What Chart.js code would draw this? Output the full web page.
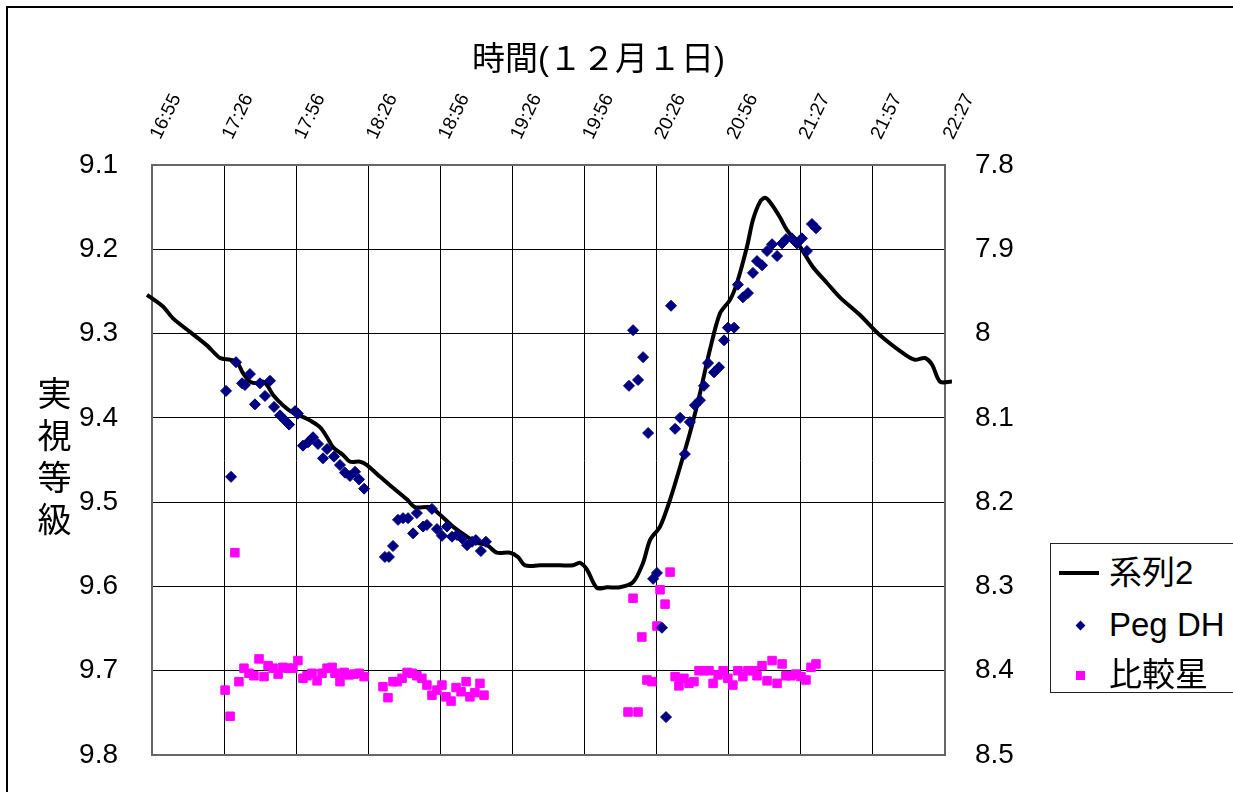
<!DOCTYPE html>
<html lang="ja">
<head>
<meta charset="UTF-8">
<title>Peg DH 光度曲線 (12月1日)</title>
<script src="https://cdn.jsdelivr.net/npm/chart.js"></script>
<style>
  body { margin: 0; background: #fff; font-family: 'Liberation Sans', 'Noto Sans CJK JP', sans-serif; }
  #wrap { position: relative; width: 1233px; height: 792px; overflow: hidden; }
  #frame { position: absolute; left: 6px; top: 6px; width: 1400px; height: 1000px;
           border-top: 2px solid #000; border-left: 2px solid #000; }
  #chart { position: absolute; left: 0; top: 0; }
  #xtitle { position: absolute; left: 472px; top: 32px; font-size: 33px; white-space: nowrap; }
  #ytitle { position: absolute; left: 32px; top: 376px; font-size: 34px; line-height: 40px;
            letter-spacing: 8px; writing-mode: vertical-rl; }
  #legend { position: absolute; left: 1050px; top: 543px; width: 220px; height: 148px;
            border: 1.5px solid #222; background: #fff; }
  .item { position: absolute; left: 58px; font-size: 33px; line-height: 40px; white-space: nowrap; }
  .mark { position: absolute; }
</style>
</head>
<body>
<div id="wrap">
  <div id="frame"></div>
  <canvas id="chart" width="1233" height="792"></canvas>
  <div id="xtitle">時間(１２月１日)</div>
  <div id="ytitle">実視等級</div>
  <div id="legend">
    <div class="mark" style="left:8px; top:27px; width:40px; height:4px; background:#000;"></div>
    <div class="item" style="top:9px;">系列2</div>
    <div class="mark" style="left:26px; top:78px; width:7px; height:7px; background:#000080; transform:rotate(45deg);"></div>
    <div class="item" style="top:61px;">Peg DH</div>
    <div class="mark" style="left:25px; top:127px; width:9px; height:9px; background:#ff00ff;"></div>
    <div class="item" style="top:111px;">比較星</div>
  </div>
</div>

<script>
// time axis: minutes after 16:55
const tickLabels = ['16:55', '17:26', '17:56', '18:26', '18:56', '19:26',
                    '19:56', '20:26', '20:56', '21:27', '21:57', '22:27'];
const xMax = 332;

// 系列2 (line)
const lineTimes = [-2.1, 4.6, 8.8, 15.9, 23.0, 28.5, 32.7, 35.6, 38.1, 41.0, 44.0, 46.5, 48.6, 50.7,
  54.8, 59.0, 63.2, 66.1, 70.3, 73.3, 75.8, 80.0, 82.9, 87.1, 90.0, 95.5, 100.9, 106.8, 110.1,
  116.4, 120.6, 126.0, 131.9, 136.1, 140.3, 144.4, 149.9, 153.2, 156.2, 162.4, 170.8, 176.3,
  179.2, 182.1, 186.3, 190.5, 195.9, 201.4, 205.6, 208.5, 212.7, 216.9, 221.1, 225.2, 229.4,
  233.6, 237.8, 242.0, 244.9, 249.1, 251.6, 254.5, 256.6, 258.7, 262.9, 265.8, 271.3, 276.7,
  282.6, 288.0, 296.4, 304.8, 315.3, 319.4, 323.6, 326.6, 329.9, 334.9];
const lineMags = [9.254, 9.268, 9.282, 9.298, 9.314, 9.329, 9.331, 9.334, 9.347, 9.357, 9.359, 9.357,
  9.363, 9.373, 9.385, 9.394, 9.399, 9.403, 9.411, 9.423, 9.435, 9.444, 9.452, 9.452, 9.456,
  9.470, 9.483, 9.497, 9.506, 9.506, 9.515, 9.529, 9.541, 9.548, 9.551, 9.560, 9.560, 9.565,
  9.575, 9.575, 9.575, 9.575, 9.572, 9.580, 9.602, 9.601, 9.601, 9.595, 9.572, 9.545, 9.529,
  9.497, 9.458, 9.418, 9.371, 9.319, 9.276, 9.260, 9.240, 9.197, 9.165, 9.144, 9.139, 9.144,
  9.162, 9.177, 9.197, 9.221, 9.240, 9.257, 9.278, 9.302, 9.325, 9.331, 9.329, 9.337, 9.357,
  9.357];

// Peg DH
const pegTimes = [31.0, 33.1, 35.2, 37.7, 38.9, 41.0, 43.1, 45.2, 47.3, 49.4, 51.1, 53.6, 55.7, 57.4,
  59.9, 61.1, 63.2, 65.3, 67.4, 69.5, 71.6, 73.3, 76.2, 78.7, 80.8, 82.9, 85.0, 86.7, 88.8,
  97.5, 99.2, 100.9, 103.0, 105.1, 107.2, 109.3, 110.9, 113.5, 115.1, 117.2, 119.3, 121.4,
  123.5, 125.6, 127.7, 129.8, 131.9, 134.0, 135.6, 137.7, 139.8,
  199.7, 201.4, 203.5, 205.6, 207.7, 209.8, 211.4, 213.5, 215.2, 217.3, 219.0, 221.1, 223.1,
  225.2, 227.3, 229.4, 231.1, 232.8, 235.3, 237.4, 239.5, 241.1, 243.7, 245.3, 247.4, 249.5,
  251.6, 253.3, 255.4, 257.5, 259.6, 261.7, 263.8, 265.4, 267.9, 270.0, 272.1, 274.2, 276.3,
  278.0];
const pegMags = [9.368, 9.470, 9.334, 9.359, 9.361, 9.348, 9.384, 9.359, 9.374, 9.356, 9.387, 9.397,
  9.403, 9.408, 9.392, 9.395, 9.433, 9.429, 9.423, 9.431, 9.448, 9.437, 9.446, 9.456, 9.465,
  9.469, 9.464, 9.473, 9.484,
  9.565, 9.565, 9.552, 9.521, 9.519, 9.519, 9.537, 9.513, 9.529, 9.527, 9.508, 9.532, 9.540,
  9.529, 9.541, 9.539, 9.543, 9.551, 9.547, 9.545, 9.558, 9.547,
  9.362, 9.296, 9.355, 9.328, 9.418, 9.591, 9.584, 9.649, 9.755, 9.267, 9.413, 9.400, 9.443,
  9.405, 9.385, 9.379, 9.362, 9.335, 9.346, 9.340, 9.308, 9.293, 9.293, 9.242, 9.257, 9.252,
  9.228, 9.214, 9.219, 9.202, 9.194, 9.208, 9.193, 9.188, 9.187, 9.193, 9.187, 9.202, 9.170,
  9.175];

// 比較星
const compTimes = [34.7, 30.6, 32.7, 36.4, 38.5, 40.6, 42.7, 44.8, 46.9, 48.6, 50.7, 52.8, 54.8, 56.9,
  59.0, 61.1, 63.2, 64.9, 67.0, 69.1, 71.2, 73.3, 75.4, 76.6, 78.7, 80.4, 82.5, 84.6, 86.7,
  88.8, 96.7, 98.8, 100.9, 102.6, 104.7, 106.8, 108.9, 110.9, 113.0, 115.1, 117.2, 119.3,
  121.4, 123.1, 125.2, 127.3, 129.4, 131.5, 133.1, 135.2, 137.3, 139.0,
  199.3, 201.4, 203.5, 205.1, 207.2, 209.3, 211.4, 212.7, 214.8, 216.9, 219.0, 220.6, 222.7,
  224.8, 226.9, 229.0, 231.1, 233.2, 234.9, 237.0, 239.1, 241.1, 243.2, 245.3, 247.4, 249.5,
  251.6, 253.3, 255.4, 257.5, 259.6, 261.7, 263.8, 265.4, 267.5, 269.6, 271.7, 273.8, 275.9,
  278.0];
const compMags = [9.560, 9.723, 9.754, 9.713, 9.697, 9.703, 9.706, 9.686, 9.707, 9.694, 9.697, 9.704,
  9.696, 9.697, 9.697, 9.688, 9.709, 9.706, 9.703, 9.712, 9.703, 9.697, 9.696, 9.703, 9.713,
  9.702, 9.705, 9.704, 9.703, 9.707, 9.719, 9.732, 9.713, 9.713, 9.709, 9.702, 9.703, 9.706,
  9.709, 9.717, 9.729, 9.723, 9.717, 9.731, 9.736, 9.720, 9.725, 9.713, 9.731, 9.726, 9.715,
  9.729,
  9.749, 9.614, 9.749, 9.660, 9.711, 9.713, 9.647, 9.604, 9.621, 9.583, 9.707, 9.718, 9.709,
  9.715, 9.713, 9.700, 9.700, 9.700, 9.715, 9.705, 9.700, 9.709, 9.717, 9.700, 9.707, 9.700,
  9.700, 9.706, 9.694, 9.712, 9.688, 9.715, 9.692, 9.706, 9.706, 9.704, 9.707, 9.711, 9.696,
  9.692];

const toPoints = (xs, ys) => xs.map((x, i) => ({ x: x, y: ys[i] }));
const magLabel = v => String(Number(v.toFixed(1)));

// plot frame drawn under the data
const plotFrame = {
  id: 'plotFrame',
  beforeDatasetsDraw(chart) {
    const a = chart.chartArea, c = chart.ctx;
    c.save();
    c.strokeStyle = '#666';
    c.lineWidth = 2;
    c.strokeRect(a.left, a.top, a.right - a.left, a.bottom - a.top);
    c.restore();
  }
};

// fixed y-axis width, no extra label padding top/bottom
const fixWidth = w => s => { s.width = w; s.paddingTop = 0; s.paddingBottom = 0; };

Chart.defaults.font.family = "'Liberation Sans', 'Noto Sans CJK JP', sans-serif";
Chart.defaults.color = '#000';

new Chart(document.getElementById('chart'), {
  type: 'scatter',
  data: {
    datasets: [
      {
        label: '系列2',
        data: toPoints(lineTimes, lineMags),
        showLine: true,
        borderColor: '#000',
        borderWidth: 4,
        pointRadius: 0,
        tension: 0.3,
        clip: false,
        order: 3
      },
      {
        label: 'Peg DH',
        data: toPoints(pegTimes, pegMags),
        pointStyle: 'rectRot',
        pointRadius: 5.5,
        backgroundColor: '#000080',
        borderColor: '#000080',
        borderWidth: 1,
        order: 1
      },
      {
        label: '比較星',
        data: toPoints(compTimes, compMags),
        pointStyle: 'rect',
        pointRadius: 6,
        backgroundColor: '#ff00ff',
        borderColor: '#ff00ff',
        borderWidth: 1,
        order: 2
      }
    ]
  },
  options: {
    responsive: false,
    animation: false,
    layout: { padding: { left: 0, right: 0, top: 0, bottom: 37 } },
    plugins: { legend: { display: false }, tooltip: { enabled: false } },
    scales: {
      x: {
        type: 'linear',
        position: 'top',
        min: 0,
        max: xMax,
        afterFit: s => { s.height = 165; },
        afterBuildTicks: s => { s.ticks = tickLabels.map((_, i) => ({ value: i * xMax / 11 })); },
        ticks: {
          autoSkip: false, minRotation: 64, maxRotation: 64, padding: 22, labelOffset: 24,
          font: { size: 19 },
          callback: (v, i) => tickLabels[i]
        },
        grid: { color: '#000', lineWidth: 1, drawTicks: false },
        border: { color: '#666', width: 2 }
      },
      y: {
        position: 'left',
        reverse: true,
        min: 9.1,
        max: 9.8,
        afterFit: fixWidth(152),
        ticks: { stepSize: 0.1, padding: 34, font: { size: 28 }, callback: magLabel },
        grid: { color: '#000', lineWidth: 1, drawTicks: false },
        border: { color: '#666', width: 2 }
      },
      y2: {
        position: 'right',
        reverse: true,
        min: 7.8,
        max: 8.5,
        afterFit: fixWidth(288),
        ticks: { stepSize: 0.1, padding: 30, font: { size: 28 }, callback: magLabel },
        grid: { drawOnChartArea: false, drawTicks: false },
        border: { color: '#666', width: 2 }
      }
    }
  },
  plugins: [plotFrame]
});
</script>
</body>
</html>
